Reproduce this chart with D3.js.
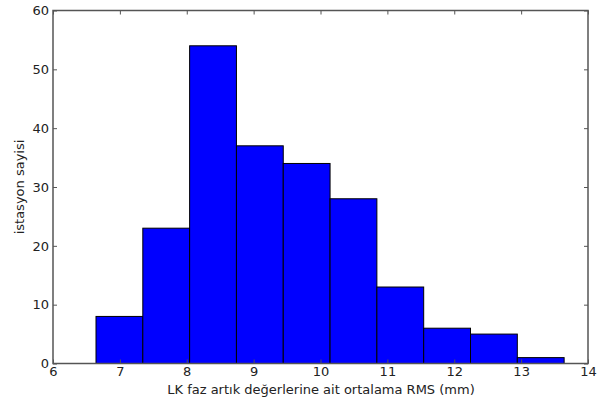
<!DOCTYPE html>
<html><head><meta charset="utf-8">
<script src="https://cdn.jsdelivr.net/npm/d3@7"></script>
<style>body{margin:0;background:#fff}svg{display:block}</style>
</head><body>
<svg id="c" width="598" height="400"></svg>
<script>
const binEdges = [6.643, 7.343, 8.043, 8.743, 9.443, 10.143, 10.843, 11.543, 12.243, 12.943, 13.643];
const counts = [8, 23, 54, 37, 34, 28, 13, 6, 5, 1];
const xTicks = [6, 7, 8, 9, 10, 11, 12, 13, 14];
const yTicks = [0, 10, 20, 30, 40, 50, 60];
const xLabel = "LK faz artık değerlerine ait ortalama RMS (mm)";
const yLabel = "istasyon sayisi";

const svg = d3.select("#c");
const L = 53, R = 588, T = 10.5, B = 363.5;
const x = d3.scaleLinear().domain([6, 14]).range([L, R]);
const y = d3.scaleLinear().domain([0, 60]).range([B, T]);
const font = "DejaVu Sans, sans-serif";
const fs = 13;

const bins = counts.map((c, i) => ({x0: binEdges[i], x1: binEdges[i + 1], c}));
svg.append("g").selectAll("rect").data(bins).join("rect")
  .attr("x", d => x(d.x0)).attr("y", d => y(d.c))
  .attr("width", d => x(d.x1) - x(d.x0)).attr("height", d => y(0) - y(d.c))
  .attr("fill", "#0000ff").attr("stroke", "#000").attr("stroke-width", 1);

const axColor = "#555";
const tl = 4;
const gb = svg.append("g").attr("transform", `translate(0,${B})`)
  .call(d3.axisBottom(x).tickValues(xTicks).tickSizeInner(-tl).tickSizeOuter(0).tickPadding(3));
const gt = svg.append("g").attr("transform", `translate(0,${T})`)
  .call(d3.axisTop(x).tickValues(xTicks).tickSizeInner(-tl).tickSizeOuter(0).tickFormat(""));
const gl = svg.append("g").attr("transform", `translate(${L},0)`)
  .call(d3.axisLeft(y).tickValues(yTicks).tickSizeInner(-tl).tickSizeOuter(0).tickPadding(4));
const gr = svg.append("g").attr("transform", `translate(${R},0)`)
  .call(d3.axisRight(y).tickValues(yTicks).tickSizeInner(-tl).tickSizeOuter(0).tickFormat(""));
[gb, gt, gl, gr].forEach(g => {
  g.selectAll(".domain").remove();
  g.selectAll("line").attr("stroke", axColor).attr("stroke-width", 1);
  g.selectAll("text").attr("font-family", font).attr("font-size", fs).attr("fill", "#222");
});
svg.append("rect").attr("x", L).attr("y", T).attr("width", R - L).attr("height", B - T)
  .attr("fill", "none").attr("stroke", axColor).attr("stroke-width", 1.5);

svg.append("text").attr("x", 321).attr("y", 394).attr("text-anchor", "middle")
  .attr("font-family", font).attr("font-size", fs).attr("fill", "#222").text(xLabel);
svg.append("text").attr("transform", `translate(24,${(T + B) / 2}) rotate(-90)`)
  .attr("text-anchor", "middle").attr("font-family", font).attr("font-size", fs)
  .attr("fill", "#222").text(yLabel);
</script>
</body></html>
